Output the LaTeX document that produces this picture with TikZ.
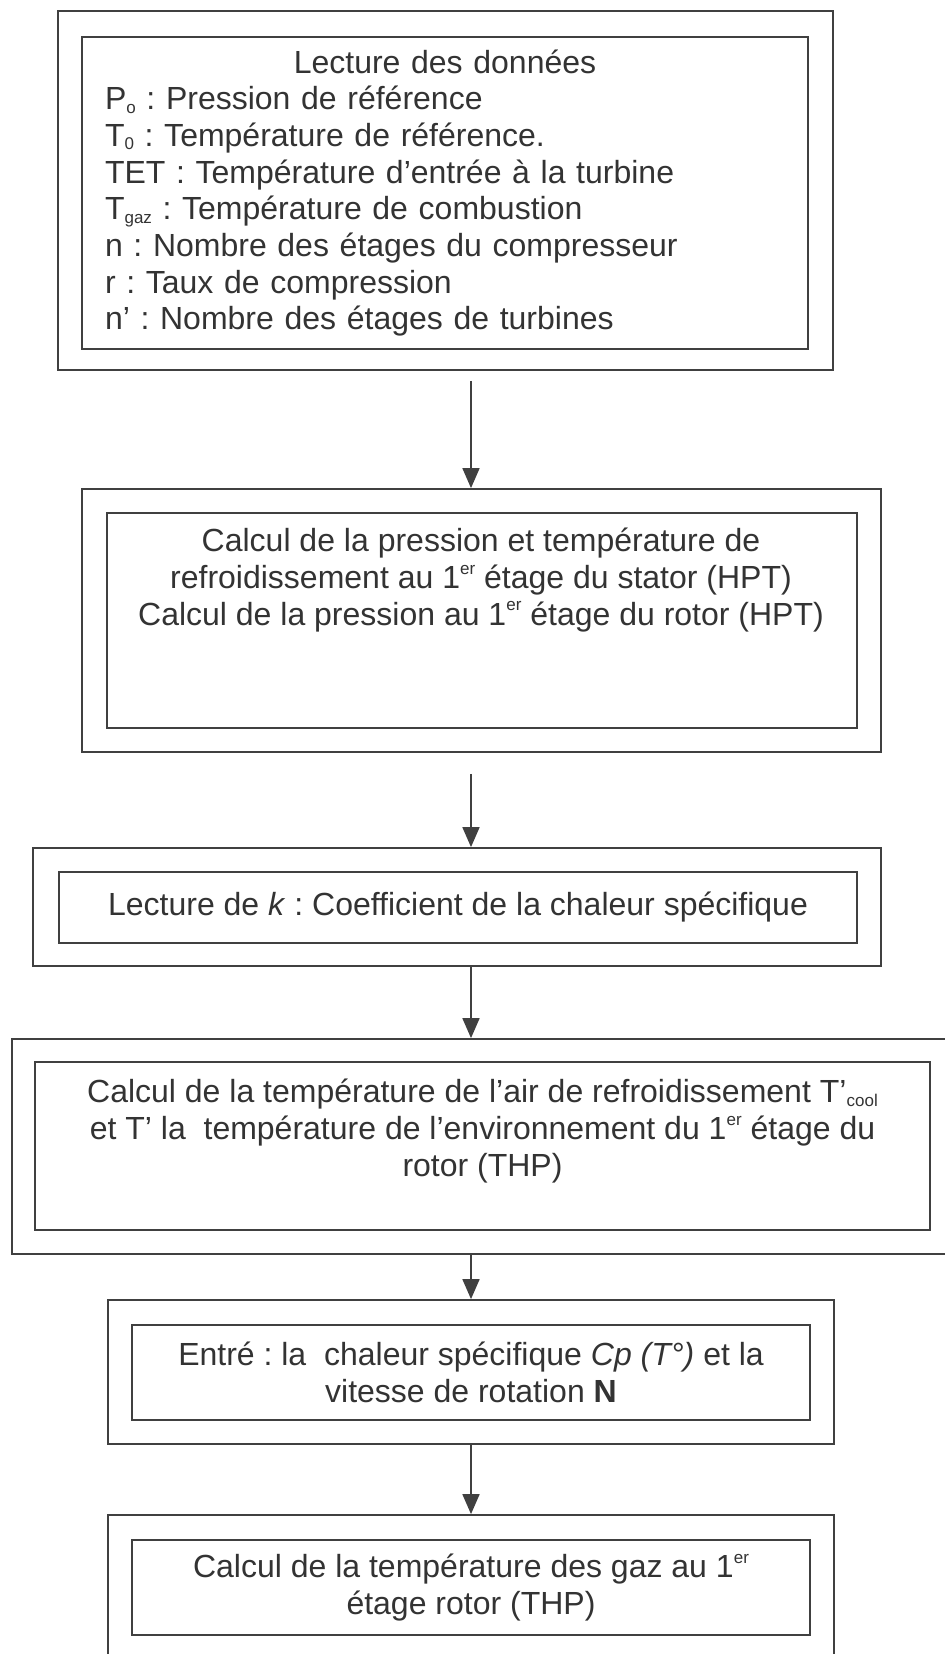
\documentclass[tikz,border=0pt]{standalone}
\usepackage{fontspec}
\setmainfont{Liberation Sans}
\setlength{\parindent}{0pt}
\frenchspacing
\usetikzlibrary{%
  arrows.meta%
}
% petits indices et exposants
\newcommand{\indice}[1]{\raisebox{-0.2ex}{\fontsize{8.5}{8.5}\selectfont #1}}
\newcommand{\expo}[1]{\raisebox{0.85ex}{\fontsize{8.5}{8.5}\selectfont #1}}
\tikzset{
  cadre/.style={draw=black!75, line width=0.9pt, rectangle, inner sep=0pt},
  bloc/.style={draw=black!75, line width=0.9pt, rectangle, inner sep=0pt,
    text=black!80, font=\fontsize{16}{18.35}\selectfont, align=center},
  fleche/.style={draw=black!75, line width=0.9pt,
    -{Triangle[length=10pt,width=8.5pt]}}
}

\begin{document}
\begin{tikzpicture}[x=0.5pt,y=-0.5pt]
  \useasboundingbox (0,0) rectangle (945,1654);
  \coordinate (axe) at (471,0);

  % lecture des donnees
  \node[cadre, minimum width=387.5pt, minimum height=179.5pt] (cadre1) at (445.5,190.5) {};
  \node[bloc, minimum width=363pt, minimum height=156pt, text width=340pt,
    inner xsep=11.5pt, align=left] (bloc1) at (445,193) {%
    {\centering Lecture des données\par}
    P\indice{o} : Pression de référence\\
    T\indice{0} : Température de référence.\\
    TET : Température d'entrée à la turbine\\
    T\indice{gaz} : Température de combustion\\
    n : Nombre des étages du compresseur\\
    r : Taux de compression\\
    n' : Nombre des étages de turbines};

  % pression et temperature au stator
  \node[cadre, minimum width=399.5pt, minimum height=131.5pt] (cadre2) at (481.5,620.5) {};
  \node[bloc, minimum width=375pt, minimum height=107.5pt] (bloc2) at (482,620.5) {};
  \node[text=black!80, font=\fontsize{16}{18.35}\selectfont, align=center] (texte2) at (481,580) {%
    Calcul de la pression et température de\\
    refroidissement au 1\expo{er} étage du stator (HPT)\\
    Calcul de la pression au 1\expo{er} étage du rotor (HPT)};

  % coefficient k
  \node[cadre, minimum width=424pt, minimum height=59pt] (cadre3) at (457,907) {};
  \node[bloc, minimum width=399pt, minimum height=35.5pt] (bloc3) at (458,907.5) {%
    Lecture de \textit{k} : Coefficient de la chaleur spécifique};

  % air de refroidissement
  \node[cadre, minimum width=474pt, minimum height=107.5pt] (cadre4) at (486,1146.5) {};
  \node[bloc, minimum width=447.5pt, minimum height=84pt] (bloc4) at (482.5,1146) {%
    Calcul de la température de l'air de refroidissement T'\indice{cool}\\
    et T' la\ \ température de l'environnement du 1\expo{er} étage du\\
    rotor (THP)\\ ~};

  % cp et vitesse de rotation
  \node[cadre, minimum width=363pt, minimum height=72pt] (cadre5) at (471,1372) {};
  \node[bloc, minimum width=339pt, minimum height=47.5pt] (bloc5) at (471,1372.5) {%
    Entré : la\ \ chaleur spécifique \textit{Cp (T°)} et la\\
    vitesse de rotation \textbf{N}};

  % gaz au rotor
  \node[cadre, minimum width=363pt, minimum height=72pt] (cadre6) at (471,1587) {};
  \node[bloc, minimum width=339pt, minimum height=47.5pt] (bloc6) at (471,1587.5) {%
    Calcul de la température des gaz au 1\expo{er}\\
    étage rotor (THP)};

  \draw[fleche] ([yshift=-5pt]cadre1.south -| axe) -- (cadre2.north -| axe);
  \draw[fleche] ([yshift=-10.5pt]cadre2.south -| axe) -- (cadre3.north -| axe);
  \draw[fleche] (cadre3.south -| axe) -- (cadre4.north -| axe);
  \draw[fleche] (cadre4.south -| axe) -- (cadre5.north -| axe);
  \draw[fleche] (cadre5.south -| axe) -- (cadre6.north -| axe);
\end{tikzpicture}
\end{document}
